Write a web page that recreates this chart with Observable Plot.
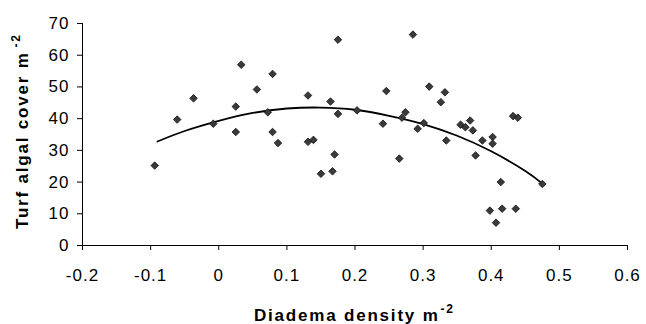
<!DOCTYPE html>
<html>
<head>
<meta charset="utf-8">
<script src="https://cdn.jsdelivr.net/npm/d3@7"></script>
<script src="https://cdn.jsdelivr.net/npm/@observablehq/plot@0.6"></script>
<style>
  html, body { margin: 0; padding: 0; background: #fff; }
  #chart svg text { letter-spacing: 1px; }
</style>
</head>
<body>
<div id="chart"></div>
<script>
// Diadema density (m^-2) vs turf algal cover
const density = [-0.094, -0.061, -0.037, -0.008, 0.025, 0.025, 0.033, 0.056, 0.072, 0.079,
  0.079, 0.087, 0.131, 0.131, 0.139, 0.164, 0.175, 0.175, 0.170, 0.167,
  0.150, 0.203, 0.246, 0.241, 0.265, 0.285, 0.274, 0.269, 0.292, 0.301,
  0.309, 0.326, 0.332, 0.334, 0.355, 0.362, 0.369, 0.373, 0.377, 0.387,
  0.402, 0.402, 0.432, 0.439, 0.414, 0.398, 0.416, 0.436, 0.407, 0.475];
const cover = [25.2, 39.7, 46.4, 38.4, 43.8, 35.8, 57.0, 49.2, 42.0, 54.1,
  35.8, 32.3, 47.3, 32.7, 33.3, 45.4, 64.9, 41.5, 28.7, 23.4,
  22.6, 42.6, 48.7, 38.4, 27.4, 66.5, 42.0, 40.3, 36.8, 38.6,
  50.1, 45.2, 48.3, 33.1, 38.1, 37.3, 39.4, 36.3, 28.4, 33.1,
  34.2, 32.1, 40.8, 40.3, 20.0, 11.0, 11.6, 11.6, 7.2, 19.4];

// Polynomial trend line
const trendX = [-0.09, -0.05, 0, 0.05, 0.1, 0.15, 0.2, 0.25, 0.3, 0.35, 0.4, 0.45, 0.475];
const trendY = [32.8, 36.1, 39.3, 41.8, 43.2, 43.5, 42.8, 40.9, 38.3, 34.6, 29.7, 23.5, 19.5];

const xTicks = [-0.2, -0.1, 0, 0.1, 0.2, 0.3, 0.4, 0.5, 0.6];
const yTicks = [0, 10, 20, 30, 40, 50, 60, 70];

const points = density.map((d, i) => ({x: d, y: cover[i]}));
const trend = trendX.map((d, i) => ({x: d, y: trendY[i]}));

const plot = Plot.plot({
  width: 646,
  height: 324,
  marginLeft: 82,
  marginRight: 19,
  marginTop: 23,
  marginBottom: 79,
  style: {fontFamily: "'Liberation Sans', Arial, sans-serif", fontSize: "17px", color: "#000", background: "#fff"},
  x: {domain: [-0.2, 0.6]},
  y: {domain: [0, 70]},
  marks: [
    Plot.axisX({ticks: xTicks, tickFormat: d => String(d), tickSize: 5, tickPadding: 18, label: null, stroke: "#000"}),
    Plot.axisY({ticks: yTicks, tickFormat: d => String(d), tickSize: 5, tickPadding: 8, label: null, stroke: "#000"}),
    Plot.ruleY([0], {stroke: "#000", strokeWidth: 1}),
    Plot.ruleX([-0.2], {stroke: "#000", strokeWidth: 1}),
    Plot.line(trend, {x: "x", y: "y", curve: "natural", stroke: "#000", strokeWidth: 1.8}),
    Plot.dot(points, {x: "x", y: "y", symbol: "diamond2", r: 3.4, fill: "#3a3a3a", stroke: "#111", strokeWidth: 0.8})
  ]
});

const svg = d3.select(plot);
// x-axis title
const xt = svg.append("text")
  .attr("x", 254).attr("y", 321)
  .attr("text-anchor", "start")
  .attr("font-weight", "bold").attr("font-size", 17)
  .style("letter-spacing", "1.8px")
  .attr("fill", "#000");
xt.append("tspan").text("Diadema density m");
xt.append("tspan").attr("font-size", 12).attr("dy", -8).attr("dx", 1).text("-2");

// y-axis title
const yt = svg.append("text")
  .attr("transform", "translate(27.5,229) rotate(-90)")
  .attr("text-anchor", "start")
  .attr("font-weight", "bold").attr("font-size", 17)
  .style("letter-spacing", "1.8px")
  .attr("fill", "#000");
yt.append("tspan").text("Turf algal cover m");
yt.append("tspan").attr("font-size", 12).attr("dy", -8).attr("dx", 4).text("-2");

document.getElementById("chart").appendChild(plot);
</script>
</body>
</html>
